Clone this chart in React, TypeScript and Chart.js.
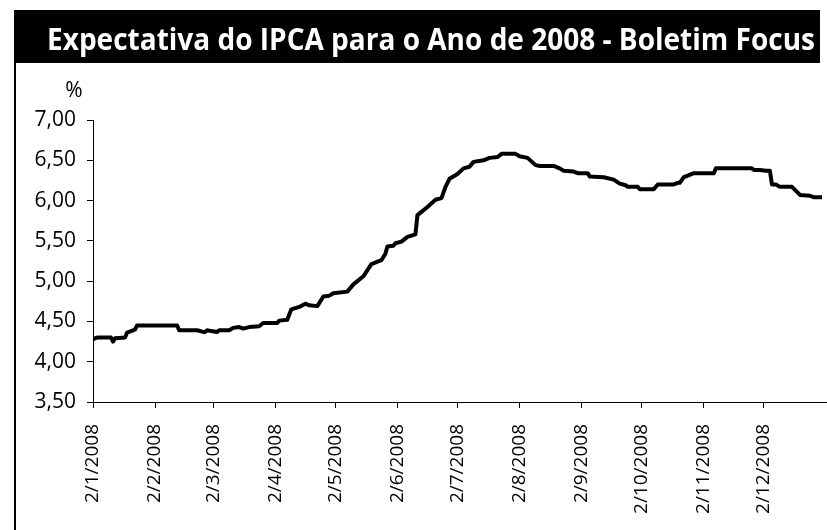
import React, { useEffect, useRef } from "react";
import { Chart, registerables } from "chart.js";

Chart.register(...registerables);

const titleText = "Expectativa do IPCA para o Ano de 2008 - Boletim Focus";
const unitLabel = "%";

const startDate = "2008-01-02";
const endDate = "2009-01-02";

const tickDates = [
  "2008-01-02", "2008-02-02", "2008-03-02", "2008-04-02", "2008-05-02", "2008-06-02",
  "2008-07-02", "2008-08-02", "2008-09-02", "2008-10-02", "2008-11-02", "2008-12-02",
];
const tickLabels = [
  "2/1/2008", "2/2/2008", "2/3/2008", "2/4/2008", "2/5/2008", "2/6/2008",
  "2/7/2008", "2/8/2008", "2/9/2008", "2/10/2008", "2/11/2008", "2/12/2008",
];

const yMin = 3.5;
const yMax = 7.0;
const yStep = 0.5;

const dates = [
  "2008-01-02", "2008-01-04", "2008-01-11", "2008-01-12", "2008-01-13", "2008-01-18", "2008-01-19", "2008-01-22", "2008-01-23", "2008-01-24",
  "2008-02-13", "2008-02-14", "2008-02-23", "2008-02-26", "2008-02-27", "2008-02-28", "2008-03-01", "2008-03-04", "2008-03-05", "2008-03-10",
  "2008-03-12", "2008-03-15", "2008-03-17", "2008-03-20", "2008-03-25", "2008-03-27", "2008-04-03", "2008-04-04", "2008-04-08", "2008-04-10",
  "2008-04-14", "2008-04-17", "2008-04-19", "2008-04-23", "2008-04-26", "2008-04-29", "2008-05-01", "2008-05-08", "2008-05-11", "2008-05-16",
  "2008-05-20", "2008-05-25", "2008-05-27", "2008-05-28", "2008-05-31", "2008-06-01", "2008-06-04", "2008-06-07", "2008-06-11", "2008-06-12",
  "2008-06-14", "2008-06-17", "2008-06-21", "2008-06-24", "2008-06-26", "2008-06-28", "2008-07-02", "2008-07-05", "2008-07-08", "2008-07-10",
  "2008-07-15", "2008-07-18", "2008-07-22", "2008-07-24", "2008-07-31", "2008-08-02", "2008-08-06", "2008-08-10", "2008-08-12", "2008-08-19",
  "2008-08-22", "2008-08-24", "2008-08-29", "2008-08-31", "2008-09-05", "2008-09-06", "2008-09-13", "2008-09-18", "2008-09-21", "2008-09-24",
  "2008-09-25", "2008-09-30", "2008-10-01", "2008-10-08", "2008-10-10", "2008-10-18", "2008-10-20", "2008-10-21", "2008-10-23", "2008-10-25",
  "2008-10-28", "2008-11-07", "2008-11-08", "2008-11-26", "2008-11-27", "2008-11-30", "2008-12-03", "2008-12-05", "2008-12-06", "2008-12-08",
  "2008-12-10", "2008-12-16", "2008-12-18", "2008-12-20", "2008-12-25", "2008-12-27", "2008-12-31",
];

const ipcaExpectation = [
  4.28, 4.30, 4.30, 4.25, 4.29, 4.30, 4.36, 4.39, 4.40, 4.45,
  4.45, 4.39, 4.39, 4.37, 4.37, 4.39, 4.38, 4.37, 4.39, 4.39,
  4.42, 4.43, 4.41, 4.43, 4.44, 4.48, 4.48, 4.51, 4.52, 4.65,
  4.68, 4.72, 4.70, 4.69, 4.81, 4.82, 4.85, 4.87, 4.96, 5.06,
  5.21, 5.26, 5.34, 5.43, 5.44, 5.47, 5.49, 5.55, 5.58, 5.82,
  5.86, 5.92, 6.01, 6.03, 6.17, 6.27, 6.33, 6.40, 6.42, 6.48,
  6.50, 6.53, 6.54, 6.58, 6.58, 6.55, 6.53, 6.44, 6.43, 6.43,
  6.40, 6.37, 6.36, 6.34, 6.34, 6.30, 6.29, 6.26, 6.21, 6.19,
  6.17, 6.17, 6.14, 6.14, 6.20, 6.20, 6.22, 6.22, 6.29, 6.31,
  6.34, 6.34, 6.40, 6.40, 6.38, 6.38, 6.37, 6.37, 6.20, 6.20,
  6.17, 6.17, 6.12, 6.07, 6.06, 6.04, 6.04,
];

function dayOffset(s: string): number {
  const [y, m, d] = s.split("-").map(Number);
  const [y0, m0, d0] = startDate.split("-").map(Number);
  return Math.round((Date.UTC(y, m - 1, d) - Date.UTC(y0, m0 - 1, d0)) / 86400000);
}

const W = 827;
const H = 530;

const framePlugin = {
  id: "frame",
  beforeDraw(chart: any) {
    const ctx = chart.ctx;
    ctx.save();
    ctx.fillStyle = "#ffffff";
    ctx.fillRect(0, 0, W, H);
    // title bar
    ctx.fillStyle = "#000000";
    ctx.fillRect(14, 10, 806, 53);
    // left frame border
    ctx.fillRect(14, 63, 2, H - 63);
    // title text
    ctx.font = "700 30px 'Open Sans', sans-serif";
    ctx.fillStyle = "#ffffff";
    ctx.textBaseline = "alphabetic";
    ctx.textAlign = "left";
    const tw = ctx.measureText(titleText).width;
    const target = 768;
    ctx.translate(47, 50);
    ctx.scale(target / tw, 1);
    ctx.fillText(titleText, 0, 0);
    ctx.restore();
  },
  afterDraw(chart: any) {
    const ctx = chart.ctx;
    ctx.save();
    ctx.font = "21px 'Open Sans', sans-serif";
    ctx.fillStyle = "#000000";
    ctx.textAlign = "center";
    ctx.textBaseline = "middle";
    ctx.fillText(unitLabel, 74, 91);
    ctx.restore();
  },
};

export default function App() {
  const canvasRef = useRef<HTMLCanvasElement | null>(null);

  useEffect(() => {
    if (!canvasRef.current) return;
    const points = dates.map((d, i) => ({ x: dayOffset(d), y: ipcaExpectation[i] }));
    const tickValues = tickDates.map(dayOffset);

    const chart = new Chart(canvasRef.current, {
      type: "line",
      data: {
        datasets: [
          {
            data: points,
            borderColor: "#000000",
            borderWidth: 4,
            pointRadius: 0,
            tension: 0,
            fill: false,
            borderJoinStyle: "round",
          } as any,
        ],
      },
      plugins: [framePlugin],
      options: {
        animation: false,
        responsive: false,
        devicePixelRatio: 1,
        layout: { padding: { top: 120, left: 0, right: 1, bottom: 0 } },
        plugins: {
          legend: { display: false },
          tooltip: { enabled: false },
          title: { display: false },
        },
        scales: {
          x: {
            type: "linear",
            min: 0,
            max: dayOffset(endDate),
            afterBuildTicks: (scale: any) => {
              scale.ticks = tickValues.map((v) => ({ value: v }));
            },
            afterFit: (scale: any) => {
              scale.height = 128;
            },
            grid: {
              drawOnChartArea: false,
              drawTicks: true,
              tickLength: 6,
              tickColor: "#000000",
            },
            border: { display: true, color: "#000000", width: 1 },
            ticks: {
              autoSkip: false,
              minRotation: 90,
              maxRotation: 90,
              padding: 16,
              color: "#000000",
              font: { family: "'Open Sans', sans-serif", size: 19 },
              callback: (_v: any, i: number) => tickLabels[i],
            },
          },
          y: {
            type: "linear",
            min: yMin,
            max: yMax,
            afterFit: (scale: any) => {
              scale.width = 93;
            },
            grid: {
              drawOnChartArea: false,
              drawTicks: true,
              tickLength: 6,
              tickColor: "#000000",
            },
            border: { display: true, color: "#000000", width: 1 },
            ticks: {
              stepSize: yStep,
              padding: 11,
              color: "#000000",
              font: { family: "'Open Sans', sans-serif", size: 21 },
              callback: (v: any) => Number(v).toFixed(2).replace(".", ","),
            },
          },
        },
      } as any,
    });
    return () => chart.destroy();
  }, []);

  return (
    <div style={{ position: "absolute", left: 0, top: 0, width: W, height: H, background: "#fff" }}>
      <canvas ref={canvasRef} width={W} height={H} style={{ display: "block", width: W, height: H }} />
    </div>
  );
}
